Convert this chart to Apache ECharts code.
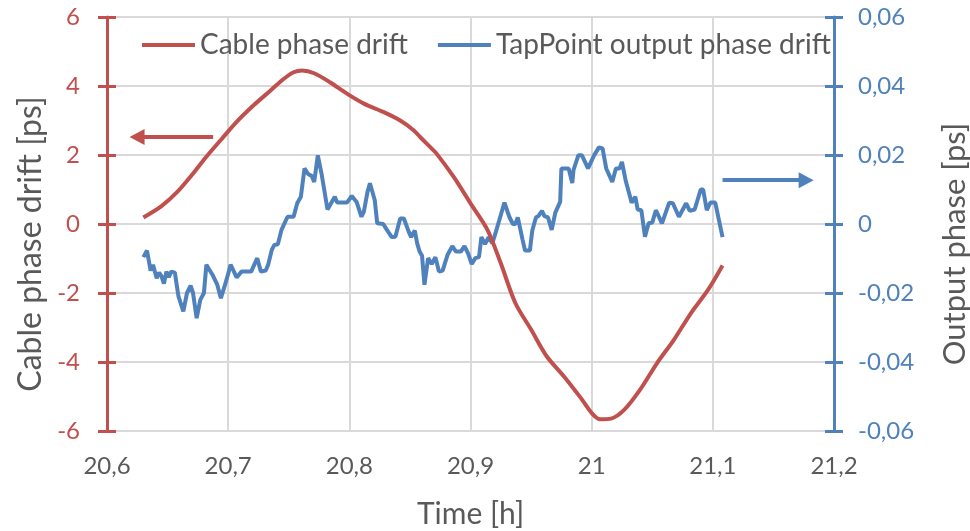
<!DOCTYPE html>
<html>
<head>
<meta charset="utf-8">
<script src="https://cdn.jsdelivr.net/npm/echarts@6/dist/echarts.min.js"></script>
<style>
html,body{margin:0;padding:0;background:#fff;}
#chart{width:970px;height:531px;}
</style>
</head>
<body>
<div id="chart"></div>
<script>
// ---- data ----
var seriesNames = ['Cable phase drift', 'TapPoint output phase drift'];

var cableTime = [20.630,20.645,20.658,20.670,20.682,20.695,20.707,20.721,20.735,20.746,20.754,20.761,20.771,20.784,20.798,20.812,20.828,20.842,20.853,20.859,20.867,20.872,20.886,20.900,20.914,20.925,20.937,20.950,20.963,20.977,20.991,21.001,21.007,21.016,21.027,21.040,21.054,21.068,21.082,21.096,21.108];
var cableDrift = [0.19,0.52,0.93,1.42,1.95,2.48,2.96,3.44,3.87,4.21,4.40,4.45,4.37,4.11,3.78,3.49,3.25,3.00,2.72,2.50,2.22,2.04,1.37,0.60,-0.17,-1.14,-2.29,-3.06,-3.84,-4.41,-5.04,-5.52,-5.66,-5.64,-5.38,-4.80,-4.03,-3.35,-2.58,-1.91,-1.20];

var tapTime = [20.630,20.633,20.636,20.638,20.641,20.643,20.645,20.647,20.649,20.651,20.653,20.656,20.659,20.663,20.666,20.669,20.671,20.674,20.677,20.680,20.682,20.687,20.691,20.694,20.697,20.699,20.702,20.707,20.711,20.719,20.724,20.727,20.731,20.733,20.736,20.738,20.741,20.744,20.749,20.754,20.757,20.760,20.763,20.766,20.769,20.771,20.774,20.777,20.782,20.788,20.790,20.798,20.802,20.806,20.810,20.812,20.815,20.817,20.821,20.823,20.828,20.831,20.835,20.838,20.842,20.845,20.849,20.851,20.854,20.856,20.858,20.860,20.862,20.865,20.868,20.871,20.874,20.877,20.881,20.885,20.888,20.892,20.895,20.898,20.901,20.904,20.907,20.909,20.912,20.915,20.918,20.921,20.925,20.928,20.932,20.935,20.937,20.939,20.943,20.945,20.949,20.951,20.954,20.956,20.959,20.961,20.964,20.967,20.970,20.974,20.975,20.981,20.984,20.985,20.989,20.992,20.997,21.002,21.006,21.009,21.012,21.017,21.020,21.023,21.025,21.028,21.033,21.036,21.038,21.041,21.044,21.047,21.050,21.053,21.058,21.064,21.067,21.072,21.078,21.081,21.085,21.090,21.092,21.095,21.098,21.102,21.108];
var tapDrift = [-0.0096,-0.0077,-0.0135,-0.0118,-0.0157,-0.0141,-0.0152,-0.0173,-0.0138,-0.0154,-0.0138,-0.0141,-0.0210,-0.0253,-0.0200,-0.0179,-0.0200,-0.0273,-0.0220,-0.0200,-0.0118,-0.0147,-0.0176,-0.0215,-0.0181,-0.0157,-0.0118,-0.0155,-0.0138,-0.0138,-0.0099,-0.0138,-0.0135,-0.0118,-0.0075,-0.0061,-0.0059,-0.0017,0.0021,0.0021,0.0060,0.0079,0.0161,0.0145,0.0139,0.0122,0.0199,0.0147,0.0042,0.0079,0.0062,0.0062,0.0081,0.0064,0.0021,0.0036,0.0093,0.0118,0.0069,0.0002,0.0000,-0.0017,-0.0038,-0.0037,0.0016,0.0016,-0.0022,-0.0038,-0.0019,-0.0056,-0.0080,-0.0092,-0.0176,-0.0099,-0.0116,-0.0096,-0.0138,-0.0135,-0.0090,-0.0064,-0.0080,-0.0080,-0.0064,-0.0085,-0.0116,-0.0099,-0.0096,-0.0038,-0.0058,-0.0038,-0.0056,-0.0022,0.0026,0.0062,0.0021,0.0000,0.0000,0.0019,-0.0046,-0.0077,-0.0077,-0.0019,0.0019,0.0023,0.0038,0.0023,0.0019,-0.0017,0.0033,0.0064,0.0161,0.0161,0.0119,0.0156,0.0199,0.0199,0.0161,0.0199,0.0222,0.0219,0.0161,0.0122,0.0161,0.0161,0.0180,0.0127,0.0062,0.0079,0.0042,0.0040,-0.0037,0.0002,0.0004,0.0040,0.0002,0.0062,0.0060,0.0021,0.0060,0.0038,0.0042,0.0100,0.0100,0.0040,0.0062,0.0062,-0.0038];

// axis ranges / ticks
var xMin = 20.6, xMax = 21.2, xStep = 0.1;
var leftMin = -6, leftMax = 6, leftStep = 2;
var rightMin = -0.06, rightMax = 0.06, rightStep = 0.02;

// annotation arrows [fromTime, toTime, value]
var cableArrow = [20.6876, 20.6248, 2.52];
var tapArrow = [21.108, 21.177, 0.0127];

// ---- chart ----
var RED = '#C0504D', BLUE = '#4F81BD', GREY = '#595959', GRID = '#D9D9D9';
var FONT = 'Lato';

function pairs(xs, ys){ return xs.map(function(x,i){ return [x, ys[i]]; }); }
function comma(s){ return s.replace('.', ','); }

var chart = echarts.init(document.getElementById('chart'), null, {renderer:'canvas'});
chart.setOption({
  animation: false,
  textStyle: {fontFamily: FONT},
  grid: {left:107, right:136, top:17, bottom:100, containLabel:false, outerBoundsMode:'none'},
  legend: {
    data: seriesNames,
    left: 137, top: 26,
    icon: 'rect', itemWidth: 53, itemHeight: 4, itemGap: 30,
    textStyle: {fontFamily: FONT, fontSize: 28, color: GREY}
  },
  xAxis: {
    type: 'value', min: xMin, max: xMax, interval: xStep,
    name: 'Time [h]', nameLocation: 'middle', nameGap: 68,
    nameTextStyle: {fontFamily: FONT, fontSize: 30, color: GREY},
    axisLine: {show: true, onZero: false, lineStyle: {color: GRID, width: 2}},
    axisTick: {show: false},
    axisLabel: {fontFamily: FONT, fontSize: 24, color: GREY, margin: 23,
      formatter: function(v){ return comma(String(+v.toFixed(1))); }},
    splitLine: {show: true, lineStyle: {color: GRID, width: 2}}
  },
  yAxis: [
    {
      type: 'value', position: 'left', min: leftMin, max: leftMax, interval: leftStep,
      name: 'Cable phase drift [ps]', nameLocation: 'middle', nameGap: 58, nameRotate: 90,
      nameTextStyle: {fontFamily: FONT, fontSize: 32, color: GREY, padding: [0, 40, 0, 0]},
      axisLine: {show: true, lineStyle: {color: RED, width: 3}},
      axisTick: {show: true, length: 9, lineStyle: {color: RED, width: 3}},
      axisLabel: {fontFamily: FONT, fontSize: 24, color: RED, margin: 27,
        formatter: function(v){ return String(Math.round(v)); }},
      splitLine: {show: true, lineStyle: {color: GRID, width: 2}}
    },
    {
      type: 'value', position: 'right', min: rightMin, max: rightMax, interval: rightStep,
      name: 'Output phase [ps]', nameLocation: 'middle', nameGap: 105, nameRotate: 90,
      nameTextStyle: {fontFamily: FONT, fontSize: 31, color: GREY, padding: [0, 40, 0, 0]},
      axisLine: {show: true, lineStyle: {color: BLUE, width: 3}},
      axisTick: {show: true, length: 9, lineStyle: {color: BLUE, width: 3}},
      axisLabel: {fontFamily: FONT, fontSize: 24, color: BLUE, margin: 24,
        formatter: function(v){ return Math.abs(v) < 1e-9 ? '0' : comma(v.toFixed(2)); }},
      splitLine: {show: false}
    },
    {
      type: 'value', position: 'left', min: leftMin, max: leftMax, interval: leftStep,
      axisLine: {show: false},
      axisTick: {show: true, inside: true, length: 9, lineStyle: {color: RED, width: 3}},
      axisLabel: {show: false}, splitLine: {show: false}
    },
    {
      type: 'value', position: 'right', min: rightMin, max: rightMax, interval: rightStep,
      axisLine: {show: false},
      axisTick: {show: true, inside: true, length: 9, lineStyle: {color: BLUE, width: 3}},
      axisLabel: {show: false}, splitLine: {show: false}
    }
  ],
  series: [
    {
      name: seriesNames[0], type: 'line', yAxisIndex: 0,
      data: pairs(cableTime, cableDrift),
      showSymbol: false, smooth: 0.3,
      lineStyle: {color: RED, width: 4}, itemStyle: {color: RED},
      markLine: {
        silent: true, animation: false,
        symbol: ['none', 'triangle'], symbolSize: [16, 15],
        label: {show: false},
        lineStyle: {color: RED, width: 4, type: 'solid'},
        data: [[{coord: [cableArrow[0], cableArrow[2]]}, {coord: [cableArrow[1], cableArrow[2]]}]]
      },
      z: 3
    },
    {
      name: seriesNames[1], type: 'line', yAxisIndex: 1,
      data: pairs(tapTime, tapDrift),
      showSymbol: false,
      lineStyle: {color: BLUE, width: 4}, itemStyle: {color: BLUE},
      markLine: {
        silent: true, animation: false,
        symbol: ['none', 'triangle'], symbolSize: [16, 15],
        label: {show: false},
        lineStyle: {color: BLUE, width: 4, type: 'solid'},
        data: [[{coord: [tapArrow[0], tapArrow[2]]}, {coord: [tapArrow[1], tapArrow[2]]}]]
      },
      z: 2
    }
  ]
});
</script>
</body>
</html>
